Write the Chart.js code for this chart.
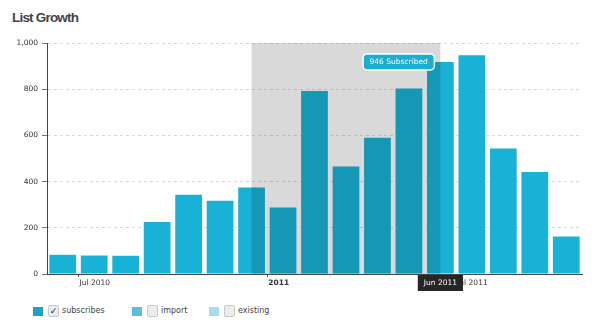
<!DOCTYPE html>
<html>
<head>
<meta charset="utf-8">
<script src="https://cdn.jsdelivr.net/npm/chart.js@4/dist/chart.umd.min.js"></script>
<style>
  body { margin: 0; background: #fff; width: 616px; height: 331px; overflow: hidden; position: relative; }
  #title { position: absolute; left: 12px; top: 10px; font: bold 13.5px "Liberation Sans", Arial, sans-serif; letter-spacing: -0.8px; color: #444; }
  #wrap { position: absolute; left: 0; top: 0; width: 616px; height: 296px; }
  .item { position: absolute; top: 305px; height: 12px; font: 8px "DejaVu Sans", sans-serif; color: #444; }
  .sw { position: absolute; left: 0; top: 2px; width: 10px; height: 9px; }
  .cb { position: absolute; left: 15px; top: 0; width: 9px; height: 10px; border: 1px solid #c8c8c8; border-radius: 2px; background: #ececec; font-size: 9px; line-height: 10px; text-align: center; color: #222; }
  .lt { position: absolute; left: 29px; top: 1px; white-space: nowrap; }
</style>
</head>
<body>
<div id="title">List Growth</div>
<div id="wrap"><canvas id="grafica"></canvas></div>
<div id="legend"></div>
<script>
const months = ['Jun 2010', 'Jul 2010', 'Aug 2010', 'Sep 2010', 'Oct 2010', 'Nov 2010', 'Dec 2010',
                'Jan 2011', 'Feb 2011', 'Mar 2011', 'Apr 2011', 'May 2011', 'Jun 2011',
                'Jul 2011', 'Aug 2011', 'Sep 2011', 'Oct 2011'];
const subscribes = [83, 80, 79, 225, 343, 317, 374, 288, 792, 465, 590, 803, 918, 947, 543, 442, 162];
const tickMonths = ['Jul 2010', 'Jan 2011', 'Jul 2011'];
const tickTexts = ['Jul 2010', '2011', 'Jul 2011'];
const legendNames = ['subscribes', 'import', 'existing'];
const legendChecked = [true, false, false];
const selectFrom = 'Dec 2010';
const selectTo = 'Jun 2011';
const hoverMonth = 'Jun 2011';
const hoverText = '946 Subscribed';

// legend de html
const legendColors = ['#1aa2c8', '#5cbcd9', '#a8dbee'];
const legendLeft = [33, 132, 209];
const legendEl = document.getElementById('legend');
legendNames.forEach((name, i) => {
    const it = document.createElement('div');
    it.className = 'item';
    it.style.left = legendLeft[i] + 'px';
    it.innerHTML = '<span class="sw" style="background:' + legendColors[i] + '"></span>' +
        '<span class="cb">' + (legendChecked[i] ? '\u2713' : '') + '</span>' +
        '<span class="lt">' + name + '</span>';
    legendEl.appendChild(it);
});

const seleccion = {
    id: 'seleccion',
    afterDatasetsDraw(chart) {
        const { ctx, chartArea, scales } = chart;
        const x0 = scales.x.getPixelForValue(months.indexOf(selectFrom));
        const x1 = scales.x.getPixelForValue(months.indexOf(selectTo));
        ctx.save();
        ctx.fillStyle = 'rgba(0,0,0,0.15)';
        ctx.fillRect(x0, chartArea.top, x1 - x0, chartArea.bottom - chartArea.top);
        ctx.restore();
    }
};

const hover = {
    id: 'hover',
    afterDraw(chart) {
        const { ctx, chartArea } = chart;
        const i = months.indexOf(hoverMonth);
        const bar = chart.getDatasetMeta(0).data[i];
        ctx.save();
        ctx.font = '7.5px "DejaVu Sans"';
        ctx.textAlign = 'center';
        ctx.textBaseline = 'middle';
        // caja del tooltip
        const w = ctx.measureText(hoverText).width + 13;
        const h = 16;
        const bx = bar.x - 6 - w;
        const by = bar.y - h / 2;
        ctx.beginPath();
        ctx.roundRect(bx, by, w, h, 4);
        ctx.fillStyle = '#1aaed3';
        ctx.fill();
        ctx.lineWidth = 1.5;
        ctx.strokeStyle = '#fff';
        ctx.stroke();
        ctx.fillStyle = '#fff';
        ctx.fillText(hoverText, bx + w / 2, by + h / 2 + 0.5);
        // etiqueta del eje
        const lw = ctx.measureText(hoverMonth).width + 12;
        ctx.fillStyle = '#262626';
        ctx.fillRect(bar.x - lw / 2, chartArea.bottom + 1, lw, 16);
        ctx.fillStyle = '#fff';
        ctx.fillText(hoverMonth, bar.x, chartArea.bottom + 9.5);
        ctx.restore();
    }
};

const ctx = document.getElementById('grafica').getContext('2d');
new Chart(ctx, {
    type: 'bar',
    data: {
        labels: months,
        datasets: [{
            label: 'subscribes',
            data: subscribes,
            backgroundColor: '#19b2d6',
            borderWidth: 0,
            categoryPercentage: 1,
            barPercentage: 0.85
        }]
    },
    plugins: [seleccion, hover],
    options: {
        responsive: true,
        maintainAspectRatio: false,
        animation: false,
        events: [],
        layout: { padding: { top: 43, right: 34, left: 0, bottom: 0 } },
        plugins: {
            legend: { display: false },
            tooltip: { enabled: false }
        },
        scales: {
            x: {
                afterFit: s => { s.height = 22; },
                grid: {
                    offset: true,
                    drawOnChartArea: false,
                    tickLength: 3,
                    tickColor: c => tickMonths.includes(months[c.index]) ? '#555' : 'rgba(0,0,0,0)'
                },
                border: { color: '#444', width: 1 },
                ticks: {
                    autoSkip: false,
                    maxRotation: 0,
                    align: 'start',
                    labelOffset: -14.7,
                    padding: 2,
                    color: '#333',
                    font: c => ({
                        family: 'DejaVu Sans',
                        size: 7.5,
                        weight: c.tick && c.tick.label === '2011' ? 'bold' : 'normal'
                    }),
                    callback: (v, i) => {
                        const k = tickMonths.indexOf(months[i]);
                        return k >= 0 ? tickTexts[k] : '';
                    }
                }
            },
            y: {
                min: 0,
                max: 1000,
                afterFit: s => { s.width = 47; },
                grid: {
                    color: '#d9d9d9',
                    tickColor: '#777',
                    tickLength: 5,
                    tickBorderDash: []
                },
                border: { color: '#444', width: 1, dash: [3, 3] },
                ticks: {
                    stepSize: 200,
                    padding: 4,
                    color: '#333',
                    font: { family: 'DejaVu Sans', size: 7.5 },
                    callback: v => v.toLocaleString('en-US')
                }
            }
        }
    }
});
</script>
</body>
</html>
